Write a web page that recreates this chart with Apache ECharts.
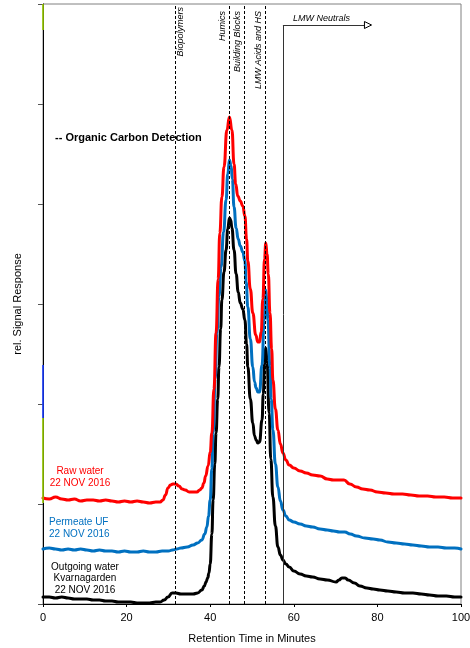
<!DOCTYPE html>
<html>
<head>
<meta charset="utf-8">
<script src="https://cdn.jsdelivr.net/npm/echarts@6/dist/echarts.min.js"></script>
<style>
  html, body { margin: 0; padding: 0; background: #fff; }
  #chart { width: 470px; height: 648px; }
</style>
</head>
<body>
<div id="chart"></div>
<script>
// Size-exclusion chromatograms (LC-OCD), organic carbon detector response.
const xTicks = [0, 20, 40, 60, 80, 100];

// [retention time in minutes, relative signal]
const rawWater = [
  [0,1.06],[1.5,1.05],[3,1.07],[4.5,1.05],[6,1.04],[7.5,1.05],[9,1.03],[10.5,1.04],[12,1.04],[13.5,1.03],
  [15,1.04],[16.5,1.03],[18,1.02],[19.5,1.03],[21,1.02],[22.5,1.03],[24,1.02],[25.5,1.01],[27,1.02],[28,1.02],
  [28.7,1.04],[29.3,1.09],[29.9,1.16],[30.5,1.19],[31.1,1.20],[31.8,1.20],[32.5,1.18],[33.3,1.15],[34,1.14],[35,1.12],
  [35.9,1.12],[36.8,1.12],[37.5,1.14],[38.0,1.16],[38.5,1.21],[38.9,1.28],[39.5,1.38],[40.0,1.52],[40.4,1.71],[40.9,2.15],
  [41.4,2.71],[41.9,3.25],[42.3,3.71],[42.8,4.07],[43.3,4.37],[44.0,4.74],[44.6,4.87],[45.2,4.74],[45.7,4.40],[46.1,4.20],
  [46.6,4.08],[47.2,4.03],[47.8,3.98],[48.3,3.88],[48.7,3.65],[49.0,3.43],[49.6,3.15],[50.2,2.91],[50.9,2.69],[51.4,2.62],
  [51.8,2.62],[52.2,2.72],[52.6,3.05],[53.0,3.45],[53.3,3.61],[53.6,3.50],[53.9,3.30],[54.3,2.91],[54.7,2.55],[55.0,2.24],
  [55.6,1.95],[56.2,1.74],[56.8,1.60],[57.4,1.51],[58.1,1.44],[58.9,1.39],[60,1.36],[61.5,1.33],[63,1.31],[64.5,1.29],
  [66.3,1.28],[68,1.25],[69.5,1.24],[71,1.24],[72,1.24],[73.4,1.20],[75,1.17],[76.5,1.15],[78.2,1.14],[80,1.12],
  [82,1.11],[84,1.10],[86,1.10],[88,1.09],[90,1.08],[92,1.08],[94,1.07],[96,1.07],[98,1.06],[100,1.06]
];

const permeateUF = [
  [0,0.55],[1.5,0.56],[3,0.55],[4.5,0.54],[6,0.55],[7.5,0.54],[9,0.55],[10.5,0.54],[12,0.53],[13.5,0.54],
  [15,0.53],[16.5,0.53],[18,0.52],[19.5,0.53],[21,0.52],[22.5,0.52],[24,0.53],[25.5,0.52],[27,0.52],[28.5,0.53],
  [30,0.53],[31,0.54],[32,0.55],[33,0.56],[34.5,0.57],[35.9,0.59],[37,0.61],[38,0.64],[38.7,0.70],[39.2,0.77],
  [39.6,0.88],[40.0,1.04],[40.4,1.35],[40.7,1.71],[41.2,2.25],[41.6,2.71],[42.1,3.08],[42.6,3.37],[43.2,3.72],[43.8,4.04],
  [44.2,4.30],[44.6,4.44],[45.0,4.38],[45.3,4.25],[45.7,3.97],[46.2,3.76],[46.7,3.65],[47.2,3.58],[47.8,3.52],[48.3,3.43],
  [48.6,3.22],[49.0,2.97],[49.6,2.65],[50.2,2.37],[50.6,2.22],[51.0,2.16],[51.4,2.12],[51.8,2.12],[52.4,2.39],[52.9,2.84],
  [53.3,3.14],[53.6,3.00],[53.8,2.84],[54.3,2.37],[54.6,2.05],[55.0,1.74],[55.6,1.40],[56.2,1.17],[56.8,1.03],[57.4,0.94],
  [58.1,0.88],[58.9,0.84],[60,0.82],[61.5,0.80],[63,0.78],[64.5,0.77],[66.3,0.75],[68,0.74],[69.5,0.73],[71,0.72],
  [72.2,0.72],[73.5,0.70],[75,0.68],[77,0.66],[79,0.65],[80.6,0.64],[82.5,0.62],[84.5,0.61],[86.5,0.60],[88.5,0.59],
  [90.5,0.58],[92.5,0.57],[94.5,0.57],[96.5,0.56],[98.5,0.56],[100,0.55]
];

const outgoingWater = [
  [0,0.07],[1.5,0.07],[3,0.06],[4.5,0.07],[6,0.06],[7.5,0.05],[9,0.05],[10.5,0.05],[12,0.04],[13.5,0.04],
  [15,0.03],[16.5,0.03],[18,0.02],[19.5,0.02],[21,0.02],[22.5,0.01],[24,0.01],[25.5,0.01],[27,0.02],[28,0.02],
  [29,0.04],[29.9,0.07],[30.9,0.11],[31.8,0.11],[33,0.10],[34.5,0.10],[35.9,0.10],[37,0.11],[38,0.14],[38.6,0.18],
  [39.0,0.22],[39.4,0.26],[39.7,0.31],[40.0,0.40],[40.4,0.70],[40.7,1.04],[41.1,1.40],[41.4,1.71],[41.8,2.05],[42.1,2.37],
  [42.5,2.75],[42.8,3.04],[43.3,3.32],[43.8,3.54],[44.2,3.75],[44.6,3.86],[44.9,3.84],[45.2,3.76],[45.7,3.54],[46.2,3.30],
  [46.7,3.12],[47.2,3.01],[47.8,2.95],[48.3,2.84],[48.7,2.60],[49.0,2.37],[49.6,2.05],[50.2,1.81],[50.6,1.68],[51.0,1.64],
  [51.4,1.61],[51.8,1.62],[52.4,1.84],[52.7,2.10],[53.0,2.40],[53.3,2.56],[53.6,2.42],[54.1,1.91],[54.5,1.45],[55.0,1.07],
  [55.6,0.78],[56.2,0.57],[56.8,0.49],[57.4,0.44],[58.1,0.40],[58.9,0.37],[60,0.33],[61.5,0.30],[63,0.28],[64.5,0.27],
  [66.3,0.25],[68,0.24],[70.1,0.22],[70.8,0.24],[71.5,0.26],[72.3,0.26],[73.0,0.24],[74.5,0.21],[75.8,0.18],[77.5,0.16],
  [79,0.15],[80.6,0.14],[82.5,0.13],[84.5,0.12],[86.5,0.11],[88.5,0.11],[90.5,0.10],[92.5,0.09],[94.5,0.08],[96.5,0.08],
  [98.5,0.07],[100,0.07]
];

// Fraction boundaries (minutes) and their names
const fractionBounds = [31.6, 44.6, 48.2, 53.2];
const fractionNames = ['Biopolymers', 'Humics', 'Building Blocks', 'LMW Acids and HS'];

// LMW neutrals bracket: start time, arrow end time, signal level of the arrow
const neutralsStart = 57.4;
const neutralsArrowEnd = 78.6;
const neutralsLevel = 5.79;

// Coloured stretches on the signal axis: [from, to, colour]
const axisMarks = [
  [6.0, 5.74, '#99cc00'],
  [2.39, 1.86, '#1a3cff'],
  [1.86, 1.01, '#99cc00']
];

const yMin = 0, yMax = 6;
const FONT = '"Liberation Sans", Arial, sans-serif';

const chart = echarts.init(document.getElementById('chart'), null, { renderer: 'canvas' });

const curve = (name, data, color) => ({
  name, type: 'line', data, showSymbol: false, symbol: 'none',
  smooth: 0.5, smoothMonotone: 'x', z: 3,
  lineStyle: { color, width: 3, join: 'round', cap: 'round' }, silent: true, animation: false
});

const option = {
  animation: false,
  backgroundColor: '#fff',
  grid: {
    left: 43, right: 9, top: 4, bottom: 44, containLabel: false, outerBoundsMode: 'none',
    show: true, borderColor: '#808080', borderWidth: 1
  },
  xAxis: {
    type: 'value', min: xTicks[0], max: xTicks[xTicks.length - 1], interval: 20,
    name: 'Retention Time in Minutes', nameLocation: 'middle', nameGap: 29,
    nameTextStyle: { fontFamily: FONT, fontSize: 11, color: '#000' },
    axisLine: { lineStyle: { color: '#000', width: 1 } },
    axisTick: { show: true, length: 3, lineStyle: { color: '#000' } },
    axisLabel: { fontFamily: FONT, fontSize: 11, color: '#000', margin: 8 },
    splitLine: { show: false }
  },
  yAxis: {
    type: 'value', min: yMin, max: yMax, interval: 1,
    name: 'rel. Signal Response', nameLocation: 'middle', nameGap: 20,
    nameTextStyle: { fontFamily: FONT, fontSize: 11, color: '#000' },
    axisLine: { show: true, lineStyle: { color: '#000', width: 1 } },
    axisTick: { show: true, length: 5, lineStyle: { color: '#555' } },
    axisLabel: { show: false },
    splitLine: { show: false }
  },
  series: [
    curve('Outgoing water', outgoingWater, '#000000'),
    curve('Permeate UF', permeateUF, '#0070c0'),
    curve('Raw water', rawWater, '#ff0000'),
    {
      // fraction boundaries drawn over the curves
      type: 'line', data: [], z: 5, silent: true,
      markLine: {
        silent: true, symbol: ['none', 'none'], animation: false,
        label: { show: false },
        lineStyle: { color: '#000', type: [3, 2], width: 1 },
        data: fractionBounds.map(v => ({ xAxis: v }))
      }
    },
    {
      // neutrals start marker and coloured axis stretches
      type: 'line', data: [], z: 6, silent: true,
      markLine: {
        silent: true, symbol: ['none', 'none'], animation: false,
        label: { show: false },
        data: [
          [{ coord: [neutralsStart, yMin], lineStyle: { color: '#333', type: 'solid', width: 1 } },
           { coord: [neutralsStart, neutralsLevel] }],
          [{ coord: [neutralsStart, neutralsLevel], lineStyle: { color: '#333', type: 'solid', width: 1 } },
           { coord: [neutralsArrowEnd - 1.7, neutralsLevel] }]
        ].concat(axisMarks.map(m => [
          { coord: [0, m[0]], lineStyle: { color: m[2], type: 'solid', width: 1.6 } },
          { coord: [0, m[1]] }
        ]))
      }
    }
  ]
};

chart.setOption(option);

// Annotations placed through the axes' own scales
const toPx = (x, y) => chart.convertToPixel({ gridIndex: 0 }, [x, y]);
const g = [];

fractionBounds.forEach((b, i) => {
  const p = toPx(b, yMax);
  g.push({
    type: 'text', x: p[0] + (i === 0 ? 5 : -7), y: p[1] + (i === 0 ? 3 : 7),
    rotation: Math.PI / 2, z: 10,
    style: {
      text: fractionNames[i], font: 'italic 9px ' + FONT, fill: '#000',
      align: 'right', verticalAlign: 'middle', textAlign: 'right', textVerticalAlign: 'middle'
    }
  });
});

// arrow head (open triangle) of the LMW neutrals bracket
const tipPx = toPx(neutralsArrowEnd, neutralsLevel);
const basePx = toPx(neutralsArrowEnd - 1.7, neutralsLevel);
g.push({
  type: 'polygon', z: 10,
  shape: { points: [[basePx[0], basePx[1] - 3.5], [tipPx[0], tipPx[1]], [basePx[0], basePx[1] + 3.5]] },
  style: { fill: '#fff', stroke: '#000', lineWidth: 1 }
});
const neutralsPx = toPx(neutralsStart, neutralsLevel);
g.push({
  type: 'text', x: neutralsPx[0] + 10, y: neutralsPx[1] - 7, z: 10,
  style: { text: 'LMW Neutrals', font: 'italic 9px ' + FONT, fill: '#000',
    align: 'left', verticalAlign: 'middle', textAlign: 'left', textVerticalAlign: 'middle' }
});

// Detector note and series captions
g.push({
  type: 'text', left: 55, top: 132, z: 10,
  style: { text: '-- Organic Carbon Detection', font: 'bold 11px ' + FONT, fill: '#000' }
});
g.push({
  type: 'text', x: 80, y: 465, z: 10,
  style: { text: 'Raw water\n22 NOV 2016', font: '10px ' + FONT, fill: '#ff0000', lineHeight: 12,
    align: 'center', textAlign: 'center', verticalAlign: 'top', textVerticalAlign: 'top' }
});
g.push({
  type: 'text', x: 49, y: 516, z: 10,
  style: { text: 'Permeate UF\n22 NOV 2016', font: '10px ' + FONT, fill: '#0070c0', lineHeight: 12,
    align: 'left', textAlign: 'left', verticalAlign: 'top', textVerticalAlign: 'top' }
});
g.push({
  type: 'text', x: 85, y: 561, z: 10,
  style: { text: 'Outgoing water\nKvarnagarden\n22 NOV 2016', font: '10px ' + FONT, fill: '#000', lineHeight: 11.5,
    align: 'center', textAlign: 'center', verticalAlign: 'top', textVerticalAlign: 'top' }
});

chart.setOption({ graphic: { elements: g } });
</script>
</body>
</html>
